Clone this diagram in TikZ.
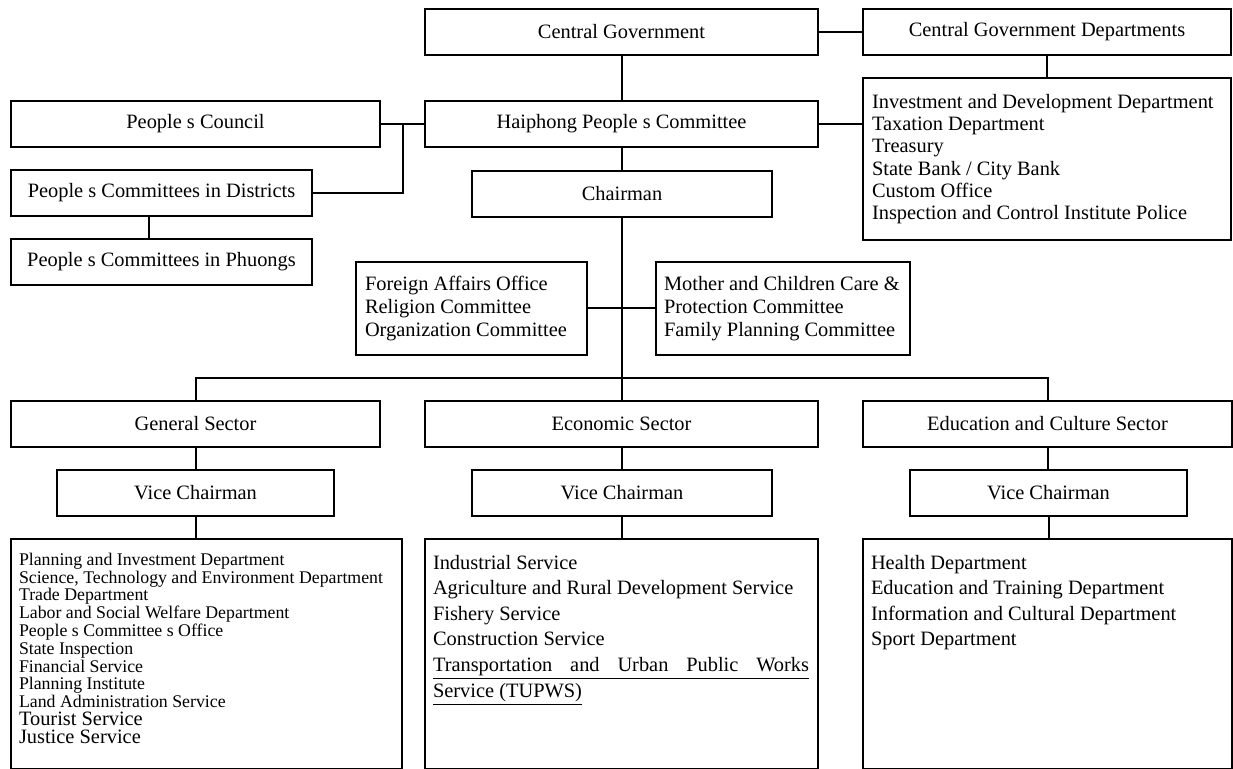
\documentclass[tikz,border=0pt]{standalone}
\usepackage{fontspec}
\setmainfont{Liberation Serif}

\begin{document}
\begin{tikzpicture}[x=0.5pt, y=-0.5pt, line width=1pt,
        font=\fontsize{10.2}{11.15}\selectfont,
        execute at begin node={\spaceskip=0pt \xspaceskip=0pt},
        box/.style={draw, inner sep=0pt, minimum height=23pt},
        listbox/.style={draw, align=left, inner xsep=4.5pt, inner ysep=0pt},
        listtext/.style={align=left, inner sep=0pt, anchor=north west}]
        \useasboundingbox (0, 0) rectangle (1233, 769);
        \clip (0, 0) rectangle (1233, 769);
        % top rows
        \node[box, minimum width=196.5pt] (cg) at (621.5, 32) {Central Government};
        \node[box, minimum width=184pt] (cgd) at (1047, 32) {Central Government Departments};
        \node[listbox, text width=175pt, minimum height=81pt] (cgdl) at (1047, 159) {Investment and Development Department\\Taxation Department\\Treasury\\State Bank / City Bank\\Custom Office\\Inspection and Control Institute Police};
        \node[box, minimum width=196.5pt] (hpc) at (621.5, 124) {Haiphong People s Committee};
        \node[box, minimum width=184.5pt] (pc) at (195.5, 124) {People s Council};
        \node[box, minimum width=150.5pt] (pcd) at (161.5, 193) {People s Committees in Districts};
        \node[box, minimum width=150.5pt] (pcp) at (161.5, 262) {People s Committees in Phuongs};
        \node[box, minimum width=150pt] (chair) at (622, 194) {Chairman};
        \node[listbox, text width=106.5pt, minimum height=46.5pt, font=\fontsize{10.2}{11.5}\selectfont] (fao) at (471.5, 308.5) {Foreign Affairs Office\\Religion Committee\\Organization Committee};
        \node[listbox, text width=119pt, inner xsep=4pt, minimum height=46.5pt, font=\fontsize{10.2}{11.5}\selectfont] (mcc) at (783, 308.5) {Mother and Children Care \&\\Protection Committee\\Family Planning Committee};
        % sectors
        \node[box, minimum width=184.5pt] (gs) at (195.5, 424) {General Sector};
        \node[box, minimum width=196.5pt] (es) at (621.5, 424) {Economic Sector};
        \node[box, minimum width=184.5pt] (ecs) at (1047.5, 424) {Education and Culture Sector};
        \node[box, minimum width=138.5pt] (gvc) at (195.5, 493) {Vice Chairman};
        \node[box, minimum width=150pt] (evc) at (622, 493) {Vice Chairman};
        \node[box, minimum width=138.5pt] (cvc) at (1048.5, 493) {Vice Chairman};
        \node[box, minimum width=195.5pt, minimum height=115.25pt] (gl) at (206.5, 654.25) {};
        \node[box, minimum width=196.5pt, minimum height=115.25pt] (el) at (621.5, 654.25) {};
        \node[box, minimum width=184.5pt, minimum height=115.25pt] (cl) at (1047.5, 654.25) {};
        \node[listtext, text width=190pt, font=\fontsize{8.9}{8.9}\selectfont] (glt) at ([shift={(4pt,-7pt)}]gl.north west) {Planning and Investment Department\\Science, Technology and Environment Department\\Trade Department\\Labor and Social Welfare Department\\People s Committee s Office\\State Inspection\\Financial Service\\Planning Institute\\Land Administration Service\\\fontsize{10.2}{8.9}\selectfont Tourist Service\\Justice Service};
        \node[listtext, text width=188pt, font=\fontsize{10.2}{12.8}\selectfont] (elt) at ([shift={(4pt,-8pt)}]el.north west) {Industrial Service\\Agriculture and Rural Development Service\\Fishery Service\\Construction Service\\\underline{\makebox[188pt][s]{Transportation\hfill and\hfill Urban\hfill Public\hfill Works}}\\\underline{Service (TUPWS)}};
        \node[listtext, text width=176pt, font=\fontsize{10.2}{12.8}\selectfont] (clt) at ([shift={(4pt,-8pt)}]cl.north west) {Health Department\\Education and Training Department\\Information and Cultural Department\\Sport Department};
        % connectors
        \draw (cg) edge (cgd) (cg) edge (hpc) (cgd) edge (cgdl);
        \draw (hpc.east) -- (hpc.east -| cgdl.west);
        \draw (pc) edge (hpc);
        \coordinate (jn) at (403, 124);
        \draw (pcd.east) -| (jn);
        \draw ([xshift=-6.25pt]pcd.south) -- ([xshift=-6.25pt]pcp.north);
        \draw (hpc.south) -- (hpc.south |- chair.north);
        \draw (chair.south) -- (chair.south |- es.north);
        \draw (fao) edge (mcc);
        \coordinate (bus) at (621.5, 378);
        \draw (gs.north) |- (bus) -| (ecs.north);
        \foreach \a/\b in {gs/gvc, es/evc, ecs/cvc, gvc/gl, evc/el, cvc/cl}
            \draw (\a.south) -- (\a.south |- \b.north);
\end{tikzpicture}
\end{document}
